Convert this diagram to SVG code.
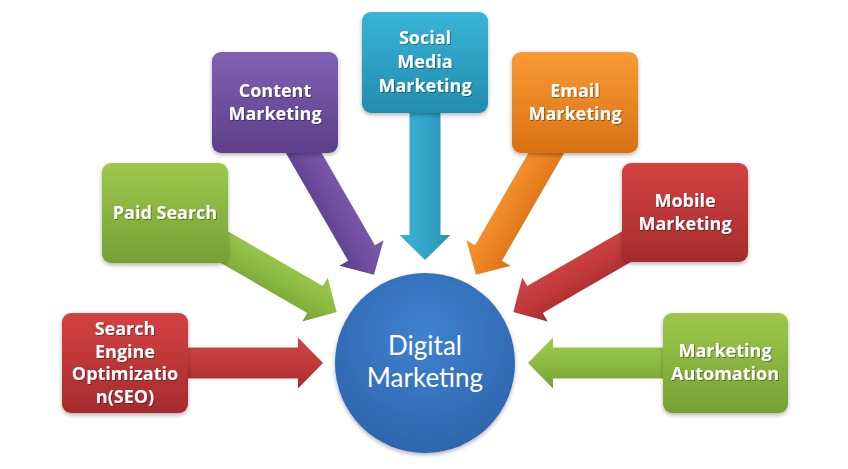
<svg xmlns="http://www.w3.org/2000/svg" width="848" height="469" viewBox="0 0 848 469">
<defs>
<linearGradient id="gRed" x1="0" y1="0" x2="0" y2="1"><stop offset="0" stop-color="#D44243"/><stop offset="1" stop-color="#A52B2C"/></linearGradient>
<linearGradient id="gGreen" x1="0" y1="0" x2="0" y2="1"><stop offset="0" stop-color="#9DC84C"/><stop offset="1" stop-color="#76A033"/></linearGradient>
<linearGradient id="gPurple" x1="0" y1="0" x2="0" y2="1"><stop offset="0" stop-color="#8160B2"/><stop offset="1" stop-color="#5D3F89"/></linearGradient>
<linearGradient id="gTeal" x1="0" y1="0" x2="0" y2="1"><stop offset="0" stop-color="#38B4D8"/><stop offset="1" stop-color="#228DAC"/></linearGradient>
<linearGradient id="gOrange" x1="0" y1="0" x2="0" y2="1"><stop offset="0" stop-color="#F99A34"/><stop offset="1" stop-color="#D87214"/></linearGradient>
<linearGradient id="aRed" x1="0" y1="0" x2="0" y2="1"><stop offset="0" stop-color="#D24243"/><stop offset="0.5" stop-color="#C23A3B"/><stop offset="1" stop-color="#A42B2C"/></linearGradient>
<linearGradient id="aGreen" x1="0" y1="0" x2="0" y2="1"><stop offset="0" stop-color="#9DC84C"/><stop offset="0.5" stop-color="#8DBB42"/><stop offset="1" stop-color="#76A033"/></linearGradient>
<linearGradient id="aPurple" x1="0" y1="0" x2="0" y2="1"><stop offset="0" stop-color="#7E5CAE"/><stop offset="0.5" stop-color="#6F4E9E"/><stop offset="1" stop-color="#5C3E88"/></linearGradient>
<linearGradient id="aTeal" x1="0" y1="0" x2="0" y2="1"><stop offset="0" stop-color="#2A92B2"/><stop offset="0.5" stop-color="#33A6C9"/><stop offset="1" stop-color="#38B1D5"/></linearGradient>
<linearGradient id="aOrange" x1="0" y1="0" x2="0" y2="1"><stop offset="0" stop-color="#F79530"/><stop offset="0.5" stop-color="#EC8424"/><stop offset="1" stop-color="#D87214"/></linearGradient>
<radialGradient id="gBlue" cx="0.5" cy="0.35" r="0.65"><stop offset="0" stop-color="#3F82D0"/><stop offset="1" stop-color="#2E65AE"/></radialGradient>
<filter id="sh" x="-10%" y="-10%" width="125%" height="130%"><feDropShadow dx="0" dy="2" stdDeviation="2" flood-color="#000" flood-opacity="0.3"/></filter>
<filter id="ts" x="-5%" y="-20%" width="110%" height="140%"><feDropShadow dx="1" dy="1" stdDeviation="0.6" flood-color="#000" flood-opacity="0.35"/></filter>
<polygon id="arr" points="0,0 -25,-25.5 -25,-15.5 -200,-15.5 -200,15.5 -25,15.5 -25,25.5"/>
</defs>
<style>
.box{filter:url(#sh)}
.lbl{font-family:"Open Sans",Lato,"Liberation Sans",sans-serif;font-weight:bold;font-size:18px;fill:#fff;text-anchor:middle;filter:url(#ts)}
.ctr{font-family:Lato,"Open Sans","Liberation Sans",sans-serif;font-size:26px;fill:#fff;text-anchor:middle}
</style>
<rect width="848" height="469" fill="#fff"/>
<g id="connectors">
<use href="#arr" fill="url(#aRed)" transform="translate(425,363) rotate(0) translate(-102,0)"/>
<use href="#arr" fill="url(#aGreen)" transform="translate(425,363) rotate(30) translate(-102,0)"/>
<use href="#arr" fill="url(#aPurple)" transform="translate(425,363) rotate(60) translate(-102,0)"/>
<use href="#arr" fill="url(#aTeal)" transform="translate(425,363) rotate(90) translate(-103,0)"/>
<use href="#arr" fill="url(#aOrange)" transform="translate(425,363) scale(-1,1) rotate(60) translate(-102,0)"/>
<use href="#arr" fill="url(#aRed)" transform="translate(425,363) scale(-1,1) rotate(30) translate(-102,0)"/>
<use href="#arr" fill="url(#aGreen)" transform="translate(425,363) scale(-1,1) rotate(0) translate(-103,0)"/>
</g>
<g id="seo">
<rect class="box" x="62" y="313" width="126" height="100" rx="9" fill="url(#gRed)"/>
<text class="lbl" x="125" y="335">Search</text>
<text class="lbl" x="125" y="357.5">Engine</text>
<text class="lbl" x="125" y="380">Optimizatio</text>
<text class="lbl" x="125" y="402.5">n(SEO)</text>
</g>
<g id="paid-search">
<rect class="box" x="102" y="163" width="126" height="100" rx="9" fill="url(#gGreen)"/>
<text class="lbl" x="165" y="218.5">Paid Search</text>
</g>
<g id="content-marketing">
<rect class="box" x="212" y="52" width="126" height="101" rx="9" fill="url(#gPurple)"/>
<text class="lbl" x="275" y="97">Content</text>
<text class="lbl" x="275" y="120">Marketing</text>
</g>
<g id="social-media-marketing">
<rect class="box" x="362" y="12" width="126" height="101" rx="9" fill="url(#gTeal)"/>
<text class="lbl" x="425" y="44">Social</text>
<text class="lbl" x="425" y="68">Media</text>
<text class="lbl" x="425" y="92">Marketing</text>
</g>
<g id="email-marketing">
<rect class="box" x="512" y="52" width="126" height="101" rx="9" fill="url(#gOrange)"/>
<text class="lbl" x="575" y="97">Email</text>
<text class="lbl" x="575" y="120">Marketing</text>
</g>
<g id="mobile-marketing">
<rect class="box" x="622" y="163" width="126" height="99" rx="9" fill="url(#gRed)"/>
<text class="lbl" x="685" y="207">Mobile</text>
<text class="lbl" x="685" y="230">Marketing</text>
</g>
<g id="marketing-automation">
<rect class="box" x="663" y="313" width="125" height="100" rx="9" fill="url(#gGreen)"/>
<text class="lbl" x="725" y="357">Marketing</text>
<text class="lbl" x="725" y="380">Automation</text>
</g>
<g id="digital-marketing">
<circle class="box" cx="425" cy="363" r="90" fill="url(#gBlue)"/>
<text class="ctr" x="425" y="355">Digital</text>
<text class="ctr" x="425" y="387">Marketing</text>
</g>
</svg>
